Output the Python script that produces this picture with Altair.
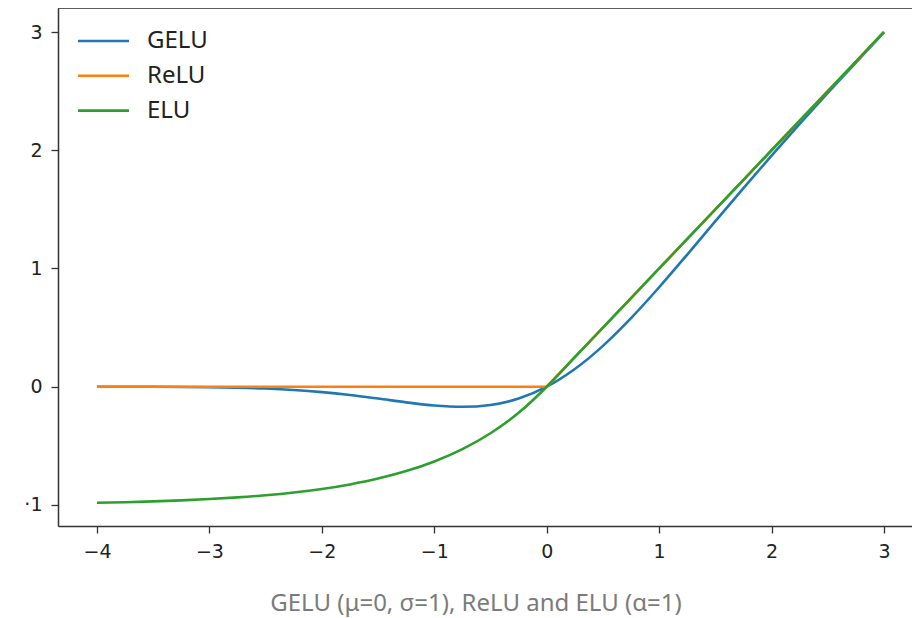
import altair as alt
import pandas as pd

# x grid and series values
x_vals = [-4.0, -3.75, -3.5, -3.25, -3.0, -2.75, -2.5, -2.25, -2.0, -1.75, -1.5,
          -1.25, -1.0, -0.75, -0.5, -0.25, 0.0, 0.25, 0.5, 0.75, 1.0, 1.25, 1.5,
          1.75, 2.0, 2.25, 2.5, 2.75, 3.0]
gelu_vals = [-0.0001, -0.0003, -0.0008, -0.0019, -0.0040, -0.0082, -0.0155, -0.0275,
             -0.0455, -0.0701, -0.1002, -0.1321, -0.1587, -0.1700, -0.1543, -0.1003,
             0.0, 0.1497, 0.3457, 0.5800, 0.8413, 1.1179, 1.3998, 1.6799, 1.9545,
             2.2225, 2.4845, 2.7418, 2.9960]
relu_vals = [0.0, 0.0, 0.0, 0.0, 0.0, 0.0, 0.0, 0.0, 0.0, 0.0, 0.0, 0.0, 0.0, 0.0,
             0.0, 0.0, 0.0, 0.25, 0.5, 0.75, 1.0, 1.25, 1.5, 1.75, 2.0, 2.25, 2.5,
             2.75, 3.0]
elu_vals = [-0.9817, -0.9765, -0.9698, -0.9612, -0.9502, -0.9361, -0.9179, -0.8946,
            -0.8647, -0.8262, -0.7769, -0.7135, -0.6321, -0.5276, -0.3935, -0.2212,
            0.0, 0.25, 0.5, 0.75, 1.0, 1.25, 1.5, 1.75, 2.0, 2.25, 2.5, 2.75, 3.0]

series_names = ["GELU", "ReLU", "ELU"]
series_colors = ["#1f77b4", "#ff7f0e", "#2ca02c"]
x_ticks = [-4, -3, -2, -1, 0, 1, 2, 3]
y_ticks = [-1, 0, 1, 2, 3]
caption = "GELU (μ=0, σ=1), ReLU and ELU (α=1)"

def frame(name, vals):
    return pd.DataFrame({"x": x_vals, "y": vals, "series": name})

df_gelu = frame("GELU", gelu_vals)
df_relu = frame("ReLU", relu_vals)
df_elu = frame("ELU", elu_vals)

W, H = 854, 518
y_domain = [-1.178, 3.203]

xenc = alt.X("x:Q", scale=alt.Scale(domain=[-4.347, 3.249], nice=False, zero=False),
             axis=alt.Axis(values=x_ticks, title=None, grid=False, labelFontSize=19,
                           labelFont="DejaVu Sans", labelColor="#222222",
                           tickSize=7, tickColor="#333333", tickWidth=1.3,
                           domainColor="#333333", domainWidth=1.5, labelPadding=9,
                           format="d"))
yenc = alt.Y("y:Q", scale=alt.Scale(domain=y_domain, nice=False, zero=False),
             axis=alt.Axis(values=y_ticks, title=None, grid=False, labelFontSize=19,
                           labelFont="DejaVu Sans", labelColor="#222222",
                           tickSize=7, tickColor="#333333", tickWidth=1.3,
                           domainColor="#333333", domainWidth=1.5, labelPadding=9,
                           labelExpr="datum.value == -1 ? '·1' : datum.label"))
yenc_plain = alt.Y("y:Q", scale=alt.Scale(domain=y_domain, nice=False, zero=False),
                   axis=None)
color_scale = alt.Scale(domain=series_names, range=series_colors)
cenc = alt.Color("series:N", scale=color_scale, legend=None)

l_gelu = alt.Chart(df_gelu).mark_line(strokeWidth=2.6, interpolate="monotone").encode(
    x=xenc, y=yenc, color=cenc)
l_relu = alt.Chart(df_relu).mark_line(strokeWidth=2.6).encode(
    x=xenc, y=yenc_plain, color=cenc)
l_elu = alt.Chart(df_elu).mark_line(strokeWidth=2.6, interpolate="monotone").encode(
    x=xenc, y=yenc_plain, color=cenc)

top_spine = alt.Chart(pd.DataFrame({"a": [0]})).mark_rule(
    color="#333333", strokeWidth=1.5).encode(
    x=alt.value(0), x2=alt.value(W), y=alt.value(0))

# legend (drawn as marks, inside the top-left corner)
legend_df = pd.DataFrame({"series": series_names, "row": list(range(len(series_names)))})
legend_base = alt.Chart(legend_df).transform_calculate(ly="33 + 34.8 * datum.row")
legend_lines = legend_base.mark_rule(strokeWidth=2.6).encode(
    x=alt.value(20), x2=alt.value(71),
    y=alt.Y("ly:Q", scale=None, axis=None),
    color=cenc)
legend_text = legend_base.mark_text(
    font="Noto Sans", fontSize=24, color="#222222", align="left",
    baseline="middle").encode(
    x=alt.value(89), y=alt.Y("ly:Q", scale=None, axis=None), text="series:N")

cap = alt.Chart(pd.DataFrame({"t": [caption]})).mark_text(
    font="Noto Sans", fontSize=24, color="#7b7b7b", align="center",
    baseline="middle").encode(text="t:N", x=alt.value(418), y=alt.value(596))

chart = alt.layer(top_spine, l_gelu, l_relu, l_elu, legend_lines, legend_text, cap).properties(
    width=W, height=H,
    autosize=alt.AutoSizeParams(type="none"),
    padding={"left": 50, "top": 0, "right": 0, "bottom": 92},
).resolve_scale(y="independent").configure_view(stroke=None).configure(background="white")

chart.save("out.html", embed_options={"renderer": "svg", "actions": False})
